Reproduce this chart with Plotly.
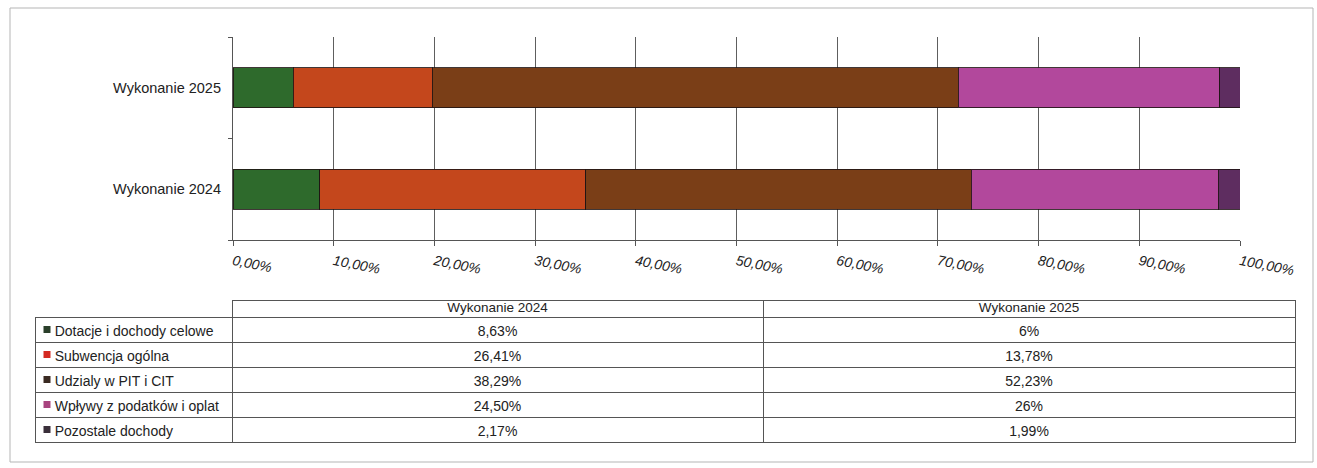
import plotly.graph_objects as go

categories = ["Wykonanie 2024", "Wykonanie 2025"]
series_names = [
    "Dotacje i dochody celowe",
    "Subwencja ogólna",
    "Udziały w PIT i CIT",
    "Wpływy z podatków i opłat",
    "Pozostałe dochody",
]
table_labels = [
    "Dotacje i dochody celowe",
    "Subwencja ogólna",
    "Udzialy w PIT i CIT",
    "Wpływy z podatków i oplat",
    "Pozostale dochody",
]
values_2024 = [8.63, 26.41, 38.29, 24.50, 2.17]
values_2025 = [6, 13.78, 52.23, 26, 1.99]
colors = ["#2e6a2c", "#c4471c", "#7a3e17", "#b2489c", "#5e2d60"]
key_colors = ["#2a3f2a", "#d42a22", "#3a2a22", "#a8447f", "#3a2f3a"]
x_ticks = [0, 10, 20, 30, 40, 50, 60, 70, 80, 90, 100]

W, H = 1317, 468
NB = "\u00a0"

# table geometry (pixels)
TBL_LEFT, TBL_TOP = 35, 300
col_widths = [197, 531, 532]
header_h, row_h = 17, 25
TBL_W = sum(col_widths)
TBL_H = header_h + row_h * len(table_labels) + 4


def px_x(p):
    return p / W


def px_y(p):
    return 1 - p / H


def fmt(v):
    if isinstance(v, int):
        return f"{v}%"
    return f"{v:.2f}%".replace(".", ",")


fig = go.Figure()
for i, name in enumerate(series_names):
    fig.add_trace(go.Bar(
        name=name,
        orientation="h",
        y=categories,
        x=[values_2024[i], values_2025[i]],
        marker=dict(color=colors[i], line=dict(color="rgba(30,20,20,0.85)", width=1)),
        hoverinfo="x+name",
    ))

label_col = [NB * 3 + t.replace(" ", NB) for t in table_labels]
col_2024 = [fmt(v) for v in values_2024]
col_2025 = [fmt(v) for v in values_2025]

tbl_domain_x = [px_x(TBL_LEFT), px_x(TBL_LEFT + TBL_W)]
tbl_domain_y = [px_y(TBL_TOP + TBL_H), px_y(TBL_TOP)]

fig.add_trace(go.Table(
    domain=dict(x=tbl_domain_x, y=tbl_domain_y),
    columnwidth=col_widths,
    header=dict(
        values=["", "", ""],
        height=header_h,
        fill=dict(color="rgba(0,0,0,0)"),
        line=dict(color=["rgba(0,0,0,0)", "#555555", "#555555"], width=1),
        font=dict(size=13),
    ),
    cells=dict(
        values=[label_col, col_2024, col_2025],
        height=row_h,
        align=["left", "center", "center"],
        fill=dict(color="rgba(0,0,0,0)"),
        line=dict(color="#555555", width=1),
        font=dict(family="Liberation Sans, Arial, sans-serif", size=14, color="#222222"),
    ),
))

# overlay axes in table pixel units: legend keys + header texts
key_x = [12] * len(table_labels)
key_y = [header_h + row_h * (i + 0.5) for i in range(len(table_labels))]
fig.add_trace(go.Scatter(
    x=key_x, y=key_y, xaxis="x2", yaxis="y2", mode="markers",
    marker=dict(symbol="square", size=7, color=key_colors, line=dict(width=0)),
    hoverinfo="skip", showlegend=False,
))
head_x = [col_widths[0] + col_widths[1] / 2, col_widths[0] + col_widths[1] + col_widths[2] / 2]
head_y = [header_h / 2 + 0.5] * 2
fig.add_trace(go.Scatter(
    x=head_x, y=head_y, xaxis="x2", yaxis="y2", mode="text",
    text=[categories[0], categories[1]],
    textposition="middle center",
    textfont=dict(family="Liberation Sans, Arial, sans-serif", size=13.5, color="#222222"),
    hoverinfo="skip", showlegend=False,
))

fig.update_layout(
    width=W,
    height=H,
    autosize=False,
    margin=dict(l=0, r=0, t=0, b=0, pad=0),
    paper_bgcolor="white",
    plot_bgcolor="rgba(0,0,0,0)",
    barmode="stack",
    bargap=0.61,
    showlegend=False,
    font=dict(family="Liberation Sans, Arial, sans-serif", color="#222222"),
    xaxis=dict(
        domain=[px_x(233), px_x(1240)],
        range=[0, 100],
        automargin=False,
        tickmode="array",
        tickvals=x_ticks,
        ticktext=[f"{v:.2f}%".replace(".", ",") for v in x_ticks],
        tickangle=11,
        tickfont=dict(size=14, style="italic", color="#222222"),
        ticklabelstandoff=2,
        showgrid=True,
        gridcolor="#5e5e5e",
        gridwidth=1.2,
        showline=True,
        linecolor="#555555",
        linewidth=1.2,
        ticks="outside",
        ticklen=5,
        tickcolor="#555555",
        zeroline=False,
        fixedrange=True,
    ),
    yaxis=dict(
        domain=[px_y(240), px_y(37)],
        automargin=False,
        categoryorder="array",
        categoryarray=categories,
        tickfont=dict(size=14.5, color="#222222"),
        showline=True,
        linecolor="#555555",
        linewidth=1.2,
        ticks="outside",
        tickson="boundaries",
        ticklen=4,
        tickcolor="#555555",
        showgrid=False,
        ticklabelstandoff=8,
        fixedrange=True,
    ),
    xaxis2=dict(domain=tbl_domain_x, range=[0, TBL_W], visible=False, anchor="y2",
                automargin=False, fixedrange=True),
    yaxis2=dict(domain=tbl_domain_y, range=[TBL_H, 0], visible=False, anchor="x2",
                automargin=False, fixedrange=True),
    shapes=[
        dict(type="rect", xref="paper", yref="paper",
             x0=px_x(10), x1=px_x(1313), y0=px_y(462), y1=px_y(8),
             line=dict(color="#b5b5b5", width=1), fillcolor="rgba(0,0,0,0)", layer="below"),
    ],
)

post = (
    "document.documentElement.style.margin='0';"
    "document.documentElement.style.overflow='hidden';"
    "document.body.style.margin='0';"
    "document.body.style.padding='0';"
    "document.body.style.overflow='hidden';"
)

fig.write_html("out.html", post_script=post, config={"displayModeBar": False})
